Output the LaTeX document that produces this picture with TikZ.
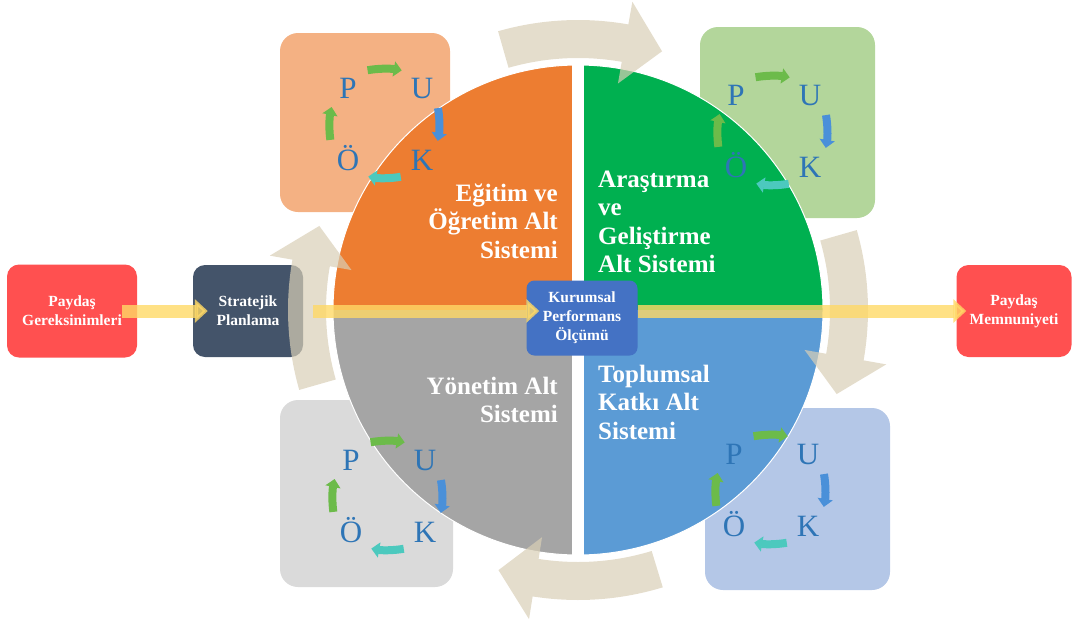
\documentclass[tikz,border=0pt]{standalone}
\usepackage{fontspec}
\setmainfont{Liberation Serif}
\usetikzlibrary{arrows.meta}
\definecolor{egitim}{HTML}{ED7D31}
\definecolor{arge}{HTML}{00B050}
\definecolor{yonetim}{HTML}{A5A5A5}
\definecolor{toplum}{HTML}{5B9BD5}
\definecolor{pukor}{HTML}{F4B183}
\definecolor{pukye}{HTML}{B3D69B}
\definecolor{pukgr}{HTML}{DADADA}
\definecolor{pukma}{HTML}{B4C7E7}
\definecolor{paydas}{HTML}{FF5050}
\definecolor{strateji}{HTML}{44546A}
\definecolor{kurumsal}{HTML}{4472C4}
\definecolor{bant}{HTML}{FFD966}
\definecolor{halka}{HTML}{D9CFB6}
\definecolor{harf}{HTML}{2E75B6}
\definecolor{okyesil}{HTML}{6CBB4A}
\definecolor{okmavi}{HTML}{4A90D9}
\definecolor{okturkuaz}{HTML}{4CC9BE}
\begin{document}
\begin{tikzpicture}[x=1pt,y=-1pt,line join=round,
  kutu/.style={rounded corners=12pt,text=white,font=\fontsize{15.5}{19}\selectfont\bfseries,align=center,inner sep=0pt},
  bolum/.style={text=white,font=\fontsize{25}{28.5}\selectfont\bfseries,inner sep=0pt},
  harfim/.style={text=harf,font=\fontsize{31}{31}\selectfont,text height=20pt,text depth=0pt,minimum width=21pt,inner sep=1pt},
  okum/.style={line width=8pt,-{Triangle[length=8pt,width=15pt]},shorten <=9pt,shorten >=8pt},
  bantok/.style={draw=bant,line width=13pt,opacity=.8,-{Triangle[length=13pt,width=23pt]}}]
\useasboundingbox (0,0) rectangle (1073,624);
\foreach \kx/\ky/\kw/\kh/\kr in {280/33/170/179/pukor,700/27/175/191/pukye,280/400/173/187/pukgr,705/408/185/182/pukma}
  \fill[\kr,rounded corners=18pt] (\kx,\ky) rectangle ++(\kw,\kh);
\begin{scope}[shift={(578,310)}]
  \fill[egitim] (0,0) -- plot[domain=180:270,samples=40] (\x:245) -- cycle;
  \fill[arge] (0,0) -- plot[domain=270:360,samples=40] (\x:245) -- cycle;
  \fill[toplum] (0,0) -- plot[domain=0:90,samples=40] (\x:245) -- cycle;
  \fill[yonetim] (0,0) -- plot[domain=90:180,samples=40] (\x:245) -- cycle;
  \draw[white,line width=1pt] (0,0) circle[radius=245];
  \fill[white] (-6,-250) rectangle (6,250);
\end{scope}
\node[bolum,align=right,anchor=east] (egt) at (558,221) {Eğitim ve\\Öğretim Alt\\Sistemi};
\node[bolum,align=left,anchor=west] (arg) at (598,222) {Araştırma\\ve\\Geliştirme\\Alt Sistemi};
\node[bolum,align=right,anchor=east] (yon) at (558,400) {Yönetim Alt\\Sistemi};
\node[bolum,align=left,anchor=west] (tkt) at (598,402) {Toplumsal\\Katkı Alt\\Sistemi};
\foreach \g/\gx/\gy in {a/385/124,b/773/131,c/388/496,d/771/490}{
  \node[harfim] (P\g) at (\gx-37,\gy-36) {P};
  \node[harfim] (U\g) at (\gx+37,\gy-36) {U};
  \node[harfim] (K\g) at (\gx+37,\gy+36) {K};
  \node[harfim] (O\g) at (\gx-37,\gy+36) {Ö};
  \draw[okum,okyesil] ([yshift=5pt]P\g.north east) to[bend left=10] ([yshift=5pt]U\g.north west);
  \draw[okum,okmavi] ([xshift=2pt]U\g.south east) to[bend left=10] ([xshift=2pt]K\g.north east);
  \draw[okum,okturkuaz] ([yshift=-4pt]K\g.south west) to[bend left=10] ([yshift=-4pt]O\g.south east);
  \draw[okum,okyesil] ([xshift=-4pt]O\g.north west) to[bend left=10] ([xshift=-4pt]P\g.south west);
}
\node[kutu,fill=paydas,minimum width=130pt,minimum height=93pt] (ger) at (72,311) {Paydaş\\Gereksinimleri};
\node[kutu,fill=strateji,minimum width=110pt,minimum height=92pt] (str) at (248,311) {Stratejik\\Planlama};
\node[kutu,fill=kurumsal,rounded corners=8pt,minimum width=111pt,minimum height=75pt] (kur) at (582,318) {Kurumsal\\Performans\\Ölçümü};
\node[kutu,fill=paydas,minimum width=115pt,minimum height=92pt] (mem) at (1014,311) {Paydaş\\Memnuniyeti};
\begin{scope}[shift={(578,310)}]
  \foreach \ra [evaluate=\ra as \rs using \ra-17, evaluate=\ra as \rb using \ra+9, evaluate=\ra as \rt using \ra+17] in {-89,1,90,181}
    \fill[halka,fill opacity=.7] plot[domain=\rs:\rb,samples=30] (\x:252) -- (\rb:230) -- (\rt:272) -- (\rb:313)
      -- plot[domain=\rb:\rs,samples=30] (\x:290) -- cycle;
\end{scope}
\draw[bantok,shorten <=-15pt,shorten >=-15pt] (ger.east) -- (str.west);
\draw[bantok,shorten <=10pt,shorten >=-13pt] (str.east) -- (str.east -| kur.west);
\draw[bantok,shorten >=-10pt] (kur.east |- mem.west) -- (mem.west);
\end{tikzpicture}
\end{document}
